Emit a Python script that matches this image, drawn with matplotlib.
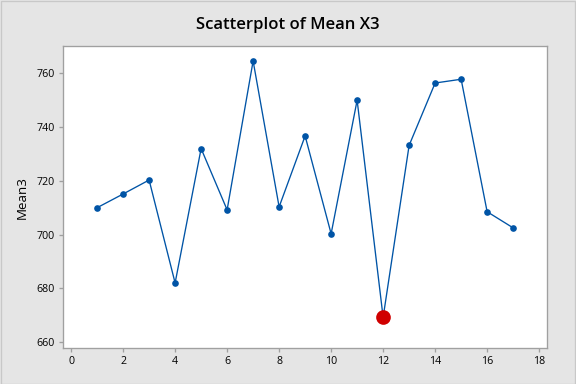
import matplotlib.pyplot as plt

plt.rcParams['font.family'] = ['Open Sans', 'DejaVu Sans']

# data
x_index = [1, 2, 3, 4, 5, 6, 7, 8, 9, 10, 11, 12, 13, 14, 15, 16, 17]
mean3 = [710.0, 715.1, 720.3, 682.0, 732.0, 709.2, 764.6, 710.3, 736.7,
         700.3, 750.0, 669.2, 733.2, 756.4, 757.8, 708.5, 702.5]
highlight_idx = [11]  # point 12 is shown in red

x_ticks = list(range(0, 19, 2))
y_ticks = list(range(660, 761, 20))

blue = '#0054A6'
red = '#D00000'
bg = '#E5E5E5'
edge = '#A0A0A0'

fig = plt.figure(figsize=(6, 4), dpi=96, facecolor=bg)
ax = fig.add_axes([0.109, 0.0945, 0.841, 0.7845])
ax.set_facecolor('white')

ax.plot(x_index, mean3, color=blue, linewidth=1.0, marker='o',
        markersize=5, markeredgewidth=0, zorder=2)
ax.plot([x_index[i] for i in highlight_idx], [mean3[i] for i in highlight_idx],
        linestyle='none', marker='o', markersize=11, color=red,
        markeredgewidth=0, zorder=3)

ax.set_xlim(-0.32, 18.31)
ax.set_ylim(657.9, 770.0)
ax.set_xticks(x_ticks)
ax.set_yticks(y_ticks)
ax.tick_params(axis='both', direction='out', length=3, width=1, color=edge,
               labelsize=8, labelcolor='black', pad=3)

for side in ax.spines.values():
    side.set_color(edge)
    side.set_linewidth(1)

ax.set_ylabel('Mean3', fontsize=10, labelpad=6)
fig.suptitle('Scatterplot of Mean X3', fontsize=12.5, fontweight='semibold', y=0.955)

# thin border round the whole figure, like the reference window
fig.patches.append(plt.Rectangle((0.001, 0.001), 0.998, 0.997, transform=fig.transFigure,
                                 fill=False, edgecolor='#C8C8C8', linewidth=1))

plt.savefig('out.png', dpi=96, facecolor=bg)
